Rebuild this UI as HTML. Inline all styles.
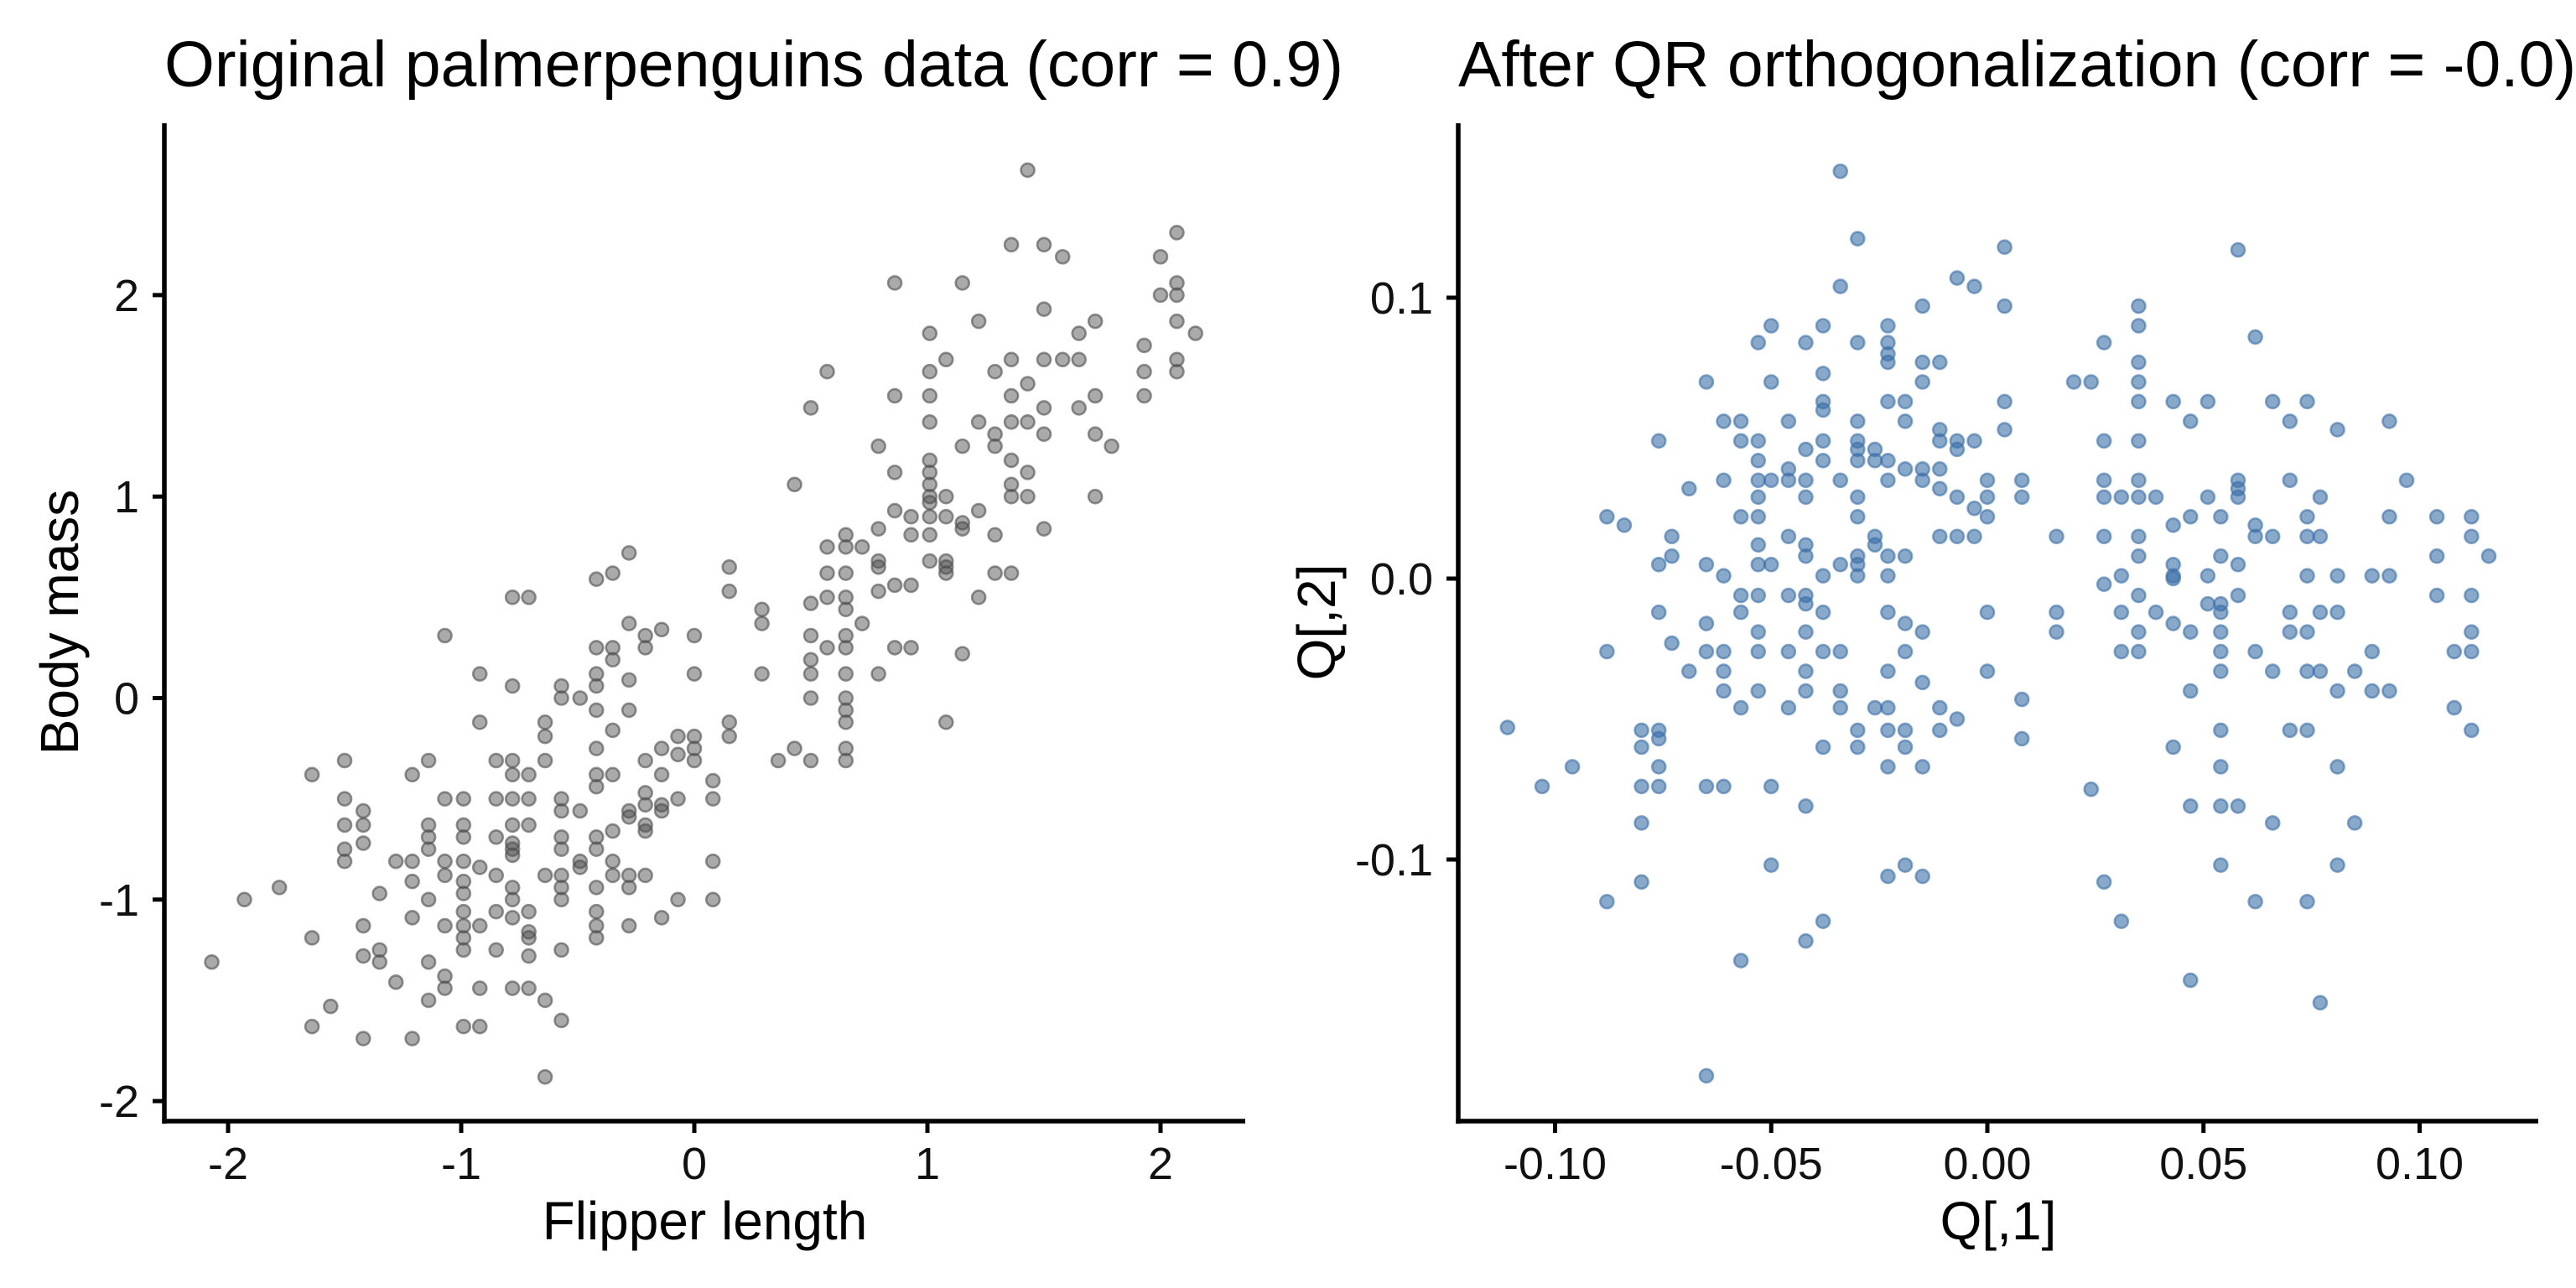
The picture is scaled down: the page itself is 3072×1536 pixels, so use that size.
<!DOCTYPE html>
<html><head><meta charset="utf-8"><style>
html,body{margin:0;padding:0;background:#fff;}
svg{display:block;font-family:"Liberation Sans",Arial,sans-serif;}
</style></head><body>
<svg id="chart" width="3072" height="1536" viewBox="0 0 3072 1536" xmlns="http://www.w3.org/2000/svg">
<rect width="3072" height="1536" fill="#fff"/>
<g id="left"></g>
<g id="right"></g>
</svg>
<script>
// Left panel data: [flipper length, [body mass values]]
const origGroups = [
[-2.07,[-1.31]],[-1.93,[-1.00]],[-1.78,[-0.94]],[-1.64,[-0.38,-1.19,-1.63]],[-1.56,[-1.53]],
[-1.50,[-0.31,-0.50,-0.63,-0.75,-0.81]],[-1.42,[-0.56,-0.63,-0.72,-1.13,-1.28,-1.69]],
[-1.35,[-0.97,-1.25,-1.31]],[-1.28,[-0.81,-1.41]],[-1.21,[-0.38,-0.81,-0.91,-1.09,-1.69]],
[-1.14,[-0.31,-0.63,-0.69,-0.75,-1.00,-1.31,-1.50]],[-1.07,[0.31,-0.50,-0.81,-0.88,-1.13,-1.38,-1.44]],
[-0.99,[-0.50,-0.63,-0.69,-0.81,-0.91,-0.97,-1.06,-1.13,-1.19,-1.25,-1.63]],
[-0.92,[0.12,-0.12,-0.84,-1.13,-1.44,-1.63]],[-0.85,[-0.31,-0.50,-0.69,-0.88,-1.06,-1.25]],
[-0.78,[0.50,0.06,-0.31,-0.38,-0.50,-0.63,-0.72,-0.75,-0.78,-0.94,-1.00,-1.09,-1.44]],
[-0.71,[0.50,-0.38,-0.50,-0.63,-1.06,-1.16,-1.19,-1.28,-1.44]],[-0.64,[-0.12,-0.19,-0.31,-0.88,-1.50,-1.88]],
[-0.57,[0.06,0,-0.50,-0.56,-0.69,-0.75,-0.88,-0.94,-1.00,-1.25,-1.60]],[-0.49,[0,-0.56,-0.81,-0.84]],
[-0.42,[0.59,0.25,0.12,0.06,-0.06,-0.25,-0.38,-0.44,-0.69,-0.75,-0.94,-1.06,-1.13,-1.19]],
[-0.35,[0.62,0.25,0.19,-0.16,-0.38,-0.66,-0.81,-0.88]],[-0.28,[0.72,0.37,0.09,-0.06,-0.56,-0.59,-0.88,-0.94,-1.13]],
[-0.21,[0.31,0.25,-0.31,-0.47,-0.53,-0.63,-0.66,-0.88]],[-0.14,[0.34,-0.25,-0.38,-0.53,-0.56,-1.09]],
[-0.07,[-0.19,-0.28,-0.50,-1.00]],[0,[0.31,0.12,-0.19,-0.25,-0.31]],[0.08,[-0.41,-0.50,-0.81,-1.00]],
[0.15,[0.65,0.53,-0.12,-0.19]],[0.29,[0.44,0.37,0.12]],[0.36,[-0.31]],[0.43,[1.06,-0.25]],
[0.50,[1.44,0.47,0.31,0.19,0.12,0,-0.31]],[0.57,[1.62,0.75,0.62,0.50,0.25]],
[0.65,[0.81,0.75,0.62,0.50,0.44,0.31,0.25,0.12,0,-0.06,-0.12,-0.25,-0.31]],[0.72,[0.75,0.37]],
[0.79,[1.25,0.84,0.68,0.65,0.53,0.12]],[0.86,[2.06,1.50,1.12,0.93,0.56,0.25]],[0.93,[0.90,0.81,0.56,0.25]],
[1.01,[1.81,1.62,1.50,1.37,1.18,1.12,1.06,1.00,0.97,0.90,0.81,0.68]],[1.08,[1.68,1.00,0.90,0.68,0.65,0.62,-0.12]],
[1.15,[2.06,1.25,0.87,0.84,0.22]],[1.22,[1.87,1.37,0.93,0.50]],[1.29,[1.62,1.31,1.25,0.81,0.62]],
[1.36,[2.25,1.68,1.50,1.37,1.18,1.06,1.00,0.62]],[1.43,[2.62,1.56,1.37,1.12,1.00]],
[1.50,[2.25,1.93,1.68,1.44,1.31,0.84]],[1.58,[2.19,1.68]],[1.65,[1.81,1.68,1.44]],[1.72,[1.87,1.50,1.31,1.00]],
[1.79,[1.25]],[1.93,[1.75,1.62,1.50]],[2.00,[2.19,2.00]],[2.07,[2.31,2.06,2.00,1.87,1.68,1.62]],[2.15,[1.81]]
];
// Right panel data: [Q[,1], [Q[,2] values]]
const qrGroups = [
[-0.111,[-0.053]],[-0.103,[-0.074]],[-0.096,[-0.067]],[-0.088,[0.022,-0.026,-0.115]],[-0.084,[0.019]],
[-0.080,[-0.054,-0.060,-0.074,-0.087,-0.108]],[-0.076,[0.049,0.005,-0.012,-0.054,-0.057,-0.067,-0.074]],
[-0.073,[0.015,0.008,-0.023]],[-0.069,[0.032,-0.033]],[-0.065,[0.070,0.005,-0.016,-0.026,-0.074,-0.177]],
[-0.061,[0.056,0.035,0.001,-0.026,-0.033,-0.040,-0.074]],[-0.057,[0.056,0.049,0.022,-0.006,-0.012,-0.046,-0.136]],
[-0.053,[0.084,0.049,0.042,0.035,0.029,0.022,0.012,0.005,-0.006,-0.019,-0.026,-0.040]],
[-0.050,[0.090,0.070,0.035,0.005,-0.074,-0.102]],[-0.046,[0.056,0.039,0.035,0.015,-0.006,-0.026,-0.046]],
[-0.042,[0.084,0.046,0.035,0.029,0.012,0.008,-0.006,-0.009,-0.019,-0.033,-0.040,-0.081,-0.129]],
[-0.038,[0.090,0.073,0.063,0.060,0.049,0.042,0.001,-0.012,-0.026,-0.060,-0.122]],
[-0.034,[0.145,0.104,0.035,0.005,-0.026,-0.040,-0.046]],
[-0.030,[0.121,0.084,0.056,0.049,0.046,0.042,0.029,0.022,0.008,0.005,0.001,-0.054,-0.060]],
[-0.026,[0.046,0.042,0.015,0.012,-0.046]],
[-0.023,[0.090,0.084,0.080,0.077,0.063,0.042,0.035,0.008,0.001,-0.012,-0.033,-0.046,-0.054,-0.067,-0.106]],
[-0.019,[0.063,0.056,0.039,0.008,-0.016,-0.026,-0.054,-0.060,-0.102]],
[-0.015,[0.097,0.077,0.070,0.039,0.035,-0.019,-0.037,-0.067,-0.106]],
[-0.011,[0.077,0.053,0.049,0.039,0.032,0.015,-0.046,-0.054]],[-0.007,[0.107,0.049,0.046,0.029,0.015,-0.050]],
[-0.003,[0.104,0.049,0.025,0.015]],[0.000,[0.035,0.029,0.022,-0.012,-0.033]],[0.004,[0.118,0.097,0.063,0.053]],
[0.008,[0.035,0.029,-0.043,-0.057]],[0.016,[0.015,-0.012,-0.019]],[0.020,[0.070]],[0.024,[0.070,-0.075]],
[0.027,[0.084,0.049,0.035,0.029,0.015,-0.002,-0.108]],[0.031,[0.029,0.001,-0.012,-0.026,-0.122]],
[0.035,[0.097,0.090,0.077,0.070,0.063,0.049,0.035,0.029,0.015,0.008,-0.006,-0.019,-0.026]],
[0.039,[0.029,-0.012]],[0.043,[0.063,0.019,0.005,0.001,0.000,-0.016,-0.060]],
[0.047,[0.056,0.022,-0.019,-0.040,-0.081,-0.143]],[0.051,[0.063,0.029,0.001,-0.009]],
[0.054,[0.022,0.008,-0.009,-0.012,-0.019,-0.026,-0.033,-0.054,-0.067,-0.081,-0.102]],
[0.058,[0.117,0.035,0.032,0.029,0.005,-0.006,-0.081]],[0.062,[0.086,0.019,0.015,-0.026,-0.115]],
[0.066,[0.063,0.015,-0.033,-0.087]],[0.070,[0.056,0.035,-0.012,-0.019,-0.054]],
[0.074,[0.063,0.022,0.015,0.001,-0.019,-0.033,-0.054,-0.115]],[0.077,[0.029,0.015,-0.012,-0.033,-0.151]],
[0.081,[0.053,0.001,-0.012,-0.040,-0.067,-0.102]],[0.085,[-0.033,-0.087]],[0.089,[0.001,-0.026,-0.040]],
[0.093,[0.056,0.022,0.001,-0.040]],[0.097,[0.035]],[0.104,[0.022,0.008,-0.006]],[0.108,[-0.026,-0.046]],
[0.112,[0.022,0.015,-0.006,-0.019,-0.026,-0.054]],[0.116,[0.008]]
];
const leftXTicks = [-2,-1,0,1,2];
const leftXTickLabels = ["-2","-1","0","1","2"];
const leftYTicks = [-2,-1,0,1,2];
const leftYTickLabels = ["-2","-1","0","1","2"];
const rightXTicks = [-0.10,-0.05,0,0.05,0.10];
const rightXTickLabels = ["-0.10","-0.05","0.00","0.05","0.10"];
const rightYTicks = [-0.1,0,0.1];
const rightYTickLabels = ["-0.1","0.0","0.1"];

const NS = "http://www.w3.org/2000/svg";
function mk(parent, tag, attrs, text){
  const e = document.createElementNS(NS, tag);
  for (const k in attrs) e.setAttribute(k, attrs[k]);
  if (text !== undefined) e.textContent = text;
  parent.appendChild(e);
  return e;
}

function drawPanel(cfg){
  const g = document.getElementById(cfg.id);
  const sx = v => cfg.x0 + cfg.xUnit * v;
  const sy = v => cfg.y0 - cfg.yUnit * v;
  const t = mk(g, "text", {x: cfg.axL, y: 103, "font-size": 77, fill: "#000"}, cfg.title);
  
  
  const pts = mk(g, "g", {});
  
  
  cfg.groups.forEach(gr => {
    gr[1].forEach(yv => {
      const c = mk(pts, "circle", {cx: sx(gr[0]), cy: sy(yv), r: 8, fill: cfg.color, "fill-opacity": cfg.fillOp, stroke: cfg.color, "stroke-opacity": 0.6, "stroke-width": 2.6});
      
      
    });
  });
  const ya = mk(g, "line", {x1: cfg.axL, y1: 147, x2: cfg.axL, y2: 1340, stroke: "#000", "stroke-width": 5.5});
  
  
  const xa = mk(g, "line", {x1: cfg.axL - 2.7, y1: 1337, x2: cfg.axR, y2: 1337, stroke: "#000", "stroke-width": 5.5});
  
  
  cfg.xTicks.forEach((v, i) => {
    const px = sx(v);
    const tk = mk(g, "line", {x1: px, y1: 1337, x2: px, y2: 1351, stroke: "#000", "stroke-width": 5});
    
    
    const lb = mk(g, "text", {x: px, y: 1406, "font-size": 54, "text-anchor": "middle", fill: "#111"}, cfg.xLabels[i]);
    
    
  });
  cfg.yTicks.forEach((v, i) => {
    const py = sy(v);
    const tk = mk(g, "line", {x1: cfg.axL - 14, y1: py, x2: cfg.axL, y2: py, stroke: "#000", "stroke-width": 5});
    
    
    const lb = mk(g, "text", {x: cfg.axL - 30, y: py + 19, "font-size": 54, "text-anchor": "end", fill: "#111"}, cfg.yLabels[i]);
    
    
  });
  const xt = mk(g, "text", {x: (cfg.axL + cfg.axR) / 2, y: 1478, "font-size": 64, "text-anchor": "middle", fill: "#000"}, cfg.xTitle);
  
  
  const yt = mk(g, "text", {x: 0, y: 0, "font-size": 64, "text-anchor": "middle", fill: "#000", transform: "translate(" + cfg.yTitleX + ",742) rotate(-90)"}, cfg.yTitle);
  
  
}

drawPanel({id: "left", title: "Original palmerpenguins data (corr = 0.9)", groups: origGroups,
  color: "#4d4d4d", fillOp: 0.48, x0: 828, xUnit: 278, y0: 832.5, yUnit: 240.3, axL: 196, axR: 1485,
  xTicks: leftXTicks, xLabels: leftXTickLabels, yTicks: leftYTicks, yLabels: leftYTickLabels,
  xTitle: "Flipper length", yTitle: "Body mass", yTitleX: 93});
drawPanel({id: "right", title: "After QR orthogonalization (corr = -0.0)", groups: qrGroups,
  color: "#3a6fa8", fillOp: 0.6, x0: 2370, xUnit: 5155, y0: 690, yUnit: 3350, axL: 1739, axR: 3027,
  xTicks: rightXTicks, xLabels: rightXTickLabels, yTicks: rightYTicks, yLabels: rightYTickLabels,
  xTitle: "Q[,1]", yTitle: "Q[,2]", yTitleX: 1592});
</script>
</body></html>
